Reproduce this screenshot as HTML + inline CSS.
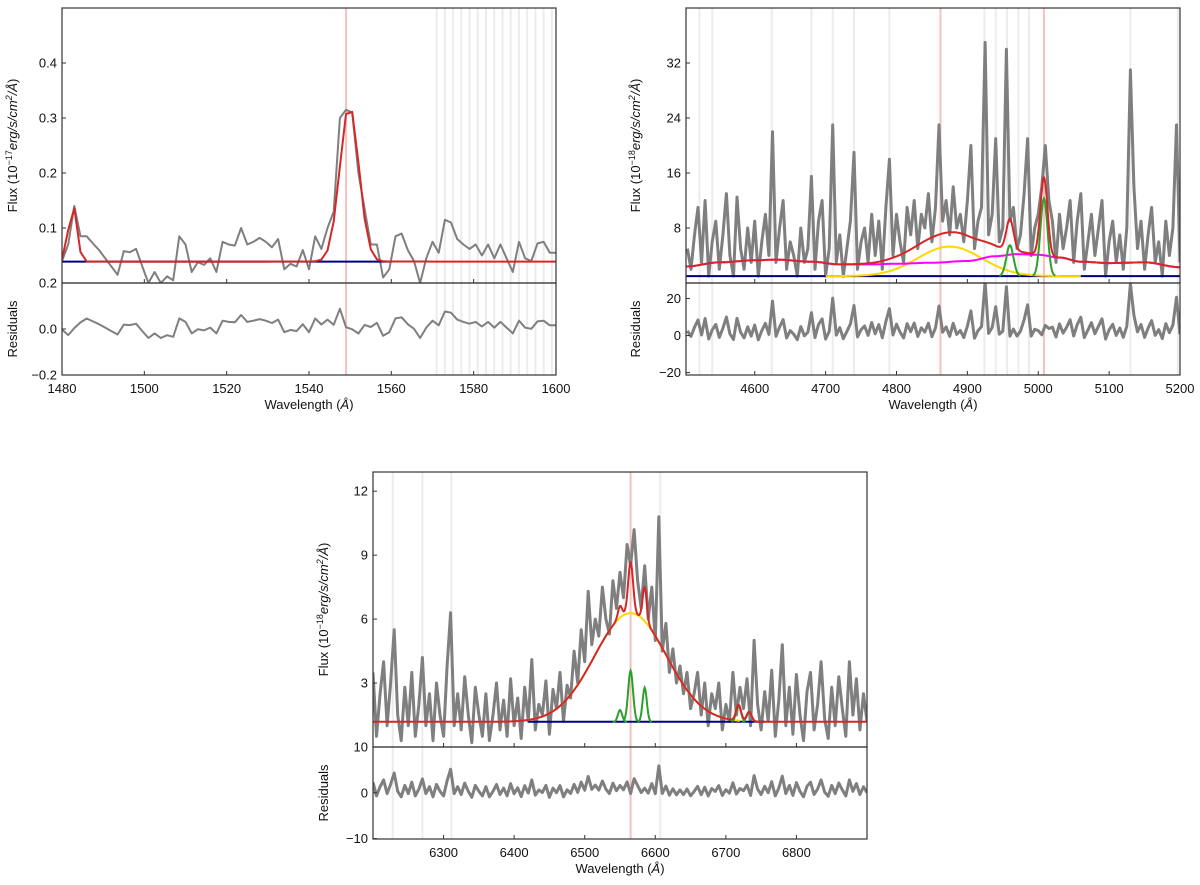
<!DOCTYPE html>
<html><head><meta charset="utf-8"><style>
html,body{margin:0;padding:0;background:#fff;}
svg{display:block;font-family:"Liberation Sans","DejaVu Sans",sans-serif;}
</style></head><body>
<svg id="fig" width="1200" height="885" viewBox="0 0 1200 885" xmlns="http://www.w3.org/2000/svg"></svg>
<script>
// ---------- Panel 1 (CIV) ----------
const p1Start = 1480, p1Step = 1.5;
const p1Flux = [0.04,0.07,0.14,0.085,0.085,0.072,0.06,0.045,0.03,0.015,0.058,0.056,0.062,0.03,0.0,0.02,0.0,0.012,0.005,0.085,0.07,0.02,0.038,0.033,0.045,0.02,0.075,0.07,0.068,0.1,0.07,0.075,0.082,0.075,0.065,0.08,0.025,0.035,0.03,0.06,0.025,0.085,0.062,0.1,0.13,0.3,0.315,0.31,0.2,0.135,0.07,0.07,0.01,0.025,0.085,0.09,0.06,0.04,0.0,0.045,0.075,0.055,0.115,0.11,0.08,0.07,0.062,0.07,0.05,0.07,0.045,0.07,0.045,0.02,0.075,0.045,0.04,0.072,0.075,0.055,0.055];
const p1Cont = 0.039;
const p1LineCenters = [1549.8, 1482.6];
const p1LineAmps = [0.285, 0.105];
const p1LineSigmas = [2.3, 1.0];
const p1GrayLines = [1571,1573,1575,1577,1579,1581,1583,1585,1587,1589,1591,1593,1595,1597,1599];
const p1PinkLines = [1549];
const p1XTicks = [1480,1500,1520,1540,1560,1580,1600];
const p1YTicks = [0.1,0.2,0.3,0.4];
const p1RTicks = [0.2,0.0,-0.2];
const p1RTickLabels = ["0.2","0.0","\u22120.2"];

// ---------- Panel 2 (Hbeta) ----------
const p2Start = 4505, p2Step = 5;
const p2Flux = [5,2,7,11,3,12,1,6,9,2,7,13,4,1,12.5,5,2,8,3,9,1,6,10,4,22,3,8,12,2,6,4,1,8,3,5,15.5,2,9,12,1,5,23,3,7,1,5,9,19,2,6,8,3,10,4,9,2,11,18,4,10,6,3,11,7,12,5,10,8,13,6,11,23,9,12,7,14,8,10,6,12,20,5,9,11,35,7,10,21,6,8,34,9,11,5,7,13,21,4,8,10,14,20,12,9,3,10,5,8,12,3,9,13,2,6,10,4,8,12,1,6,9,3,7,2,8,31,14,5,9,2,7,11,3,6,1,9,4,8,23,3];
const p2Cont = 1.0;
const p2FeWave = [4503,4550,4600,4630,4680,4720,4760,4800,4850,4900,4940,4970,5000,5030,5060,5100,5150,5200];
const p2FeFlux = [1.4,2.0,2.3,2.4,2.1,1.7,1.7,1.8,1.95,2.2,2.9,3.2,3.1,2.7,2.1,1.9,2.0,1.3];
const p2BroadCenter = [4875], p2BroadAmp = [4.3], p2BroadSigma = [45];
const p2NarrowCenters = [4960, 5008];
const p2NarrowAmps = [4.5, 11.3];
const p2NarrowSigmas = [5, 5];
const p2GrayLines = [4522,4540,4624,4680,4710,4740,4790,4924,4940,4956,4972,4987,5130,5197];
const p2PinkLines = [4862,5008];
const p2XTicks = [4600,4700,4800,4900,5000,5100,5200];
const p2YTicks = [8,16,24,32];
const p2RTicks = [20,0,-20];
const p2RTickLabels = ["20","0","\u221220"];

// ---------- Panel 3 (Halpha) ----------
const p3Start = 6200, p3Step = 5;
const p3Flux = [3.5,0.5,2.5,4,1,3,5.5,1.5,0.3,2.8,1,3.5,0.5,2,4.2,1,2.5,0.3,3,1.5,0.5,3.8,6.3,1,2.5,0.8,3.3,1.5,0.2,2.8,1.5,0.5,2.5,0.3,1.5,3,0.8,2.2,0.5,3.2,1,2.3,0.4,2.8,1.2,4.1,0.8,2,1.5,3.1,0.6,2.7,1.8,3.5,1.2,2.9,2.3,4.5,3,5.5,4,7.3,4.8,6,5.2,7.5,6,5.3,7.8,6.5,8.2,7,9.5,8.5,10.2,7.8,6.5,8.5,6,7.5,5,10.8,4.5,5.8,3.5,4.6,3,3.8,2.5,3.5,1.8,2.5,3.5,1.5,3,1,2.5,1.8,3,0.8,2,1.2,3.5,1.5,2.8,1.8,3.2,1,5,2,0.8,2.6,1.2,3.6,0.5,2.2,4.8,1,2.8,0.6,3.4,1.5,0.3,2.6,3.5,0.8,2,4,1.3,0.4,2.8,1,3.3,1.8,0.5,4,1.5,3.2,0.8,2.5,1.2];
const p3Cont = 1.18;
const p3BroadCenter = [6565], p3BroadAmp = [5.1], p3BroadSigma = [51];
const p3NarrowCenters = [6550, 6565, 6585, 6718, 6733];
const p3NarrowAmps = [0.55, 2.4, 1.6, 0.75, 0.45];
const p3NarrowSigmas = [3, 3.5, 3, 3.5, 3.5];
const p3GrayLines = [6228,6270,6311,6607];
const p3PinkLines = [6565];
const p3XTicks = [6300,6400,6500,6600,6700,6800];
const p3YTicks = [3,6,9,12];
const p3RTicks = [10,0,-10];
const p3RTickLabels = ["10","0","\u221210"];

const NS = "http://www.w3.org/2000/svg";
const fig = document.getElementById('fig');
function mk(tag, attrs, parent){ const e=document.createElementNS(NS,tag); for(const k in attrs) e.setAttribute(k,attrs[k]); (parent||fig).appendChild(e); return e; }
function gsum(x, cs, as, ss){ let s=0; for(let i=0;i<cs.length;i++){ s+=as[i]*Math.exp(-0.5*Math.pow((x-cs[i])/ss[i],2)); } return s; }
function interp(x, xs, ys){ if(x<=xs[0]) return ys[0]; for(let i=1;i<xs.length;i++){ if(x<=xs[i]){ const t=(x-xs[i-1])/(xs[i]-xs[i-1]); const tt=(1-Math.cos(t*Math.PI))/2; return ys[i-1]+(ys[i]-ys[i-1])*tt; } } return ys[ys.length-1]; }
function path(pts, sx, sy){ return pts.map((p,i)=>(i?'L':'M')+sx(p[0]).toFixed(1)+' '+sy(p[1]).toFixed(1)).join(''); }
let clipId=0;
function axesBox(x0,y0,x1,y1){ clipId++; const cp=mk('clipPath',{id:'c'+clipId}); mk('rect',{x:x0,y:y0,width:x1-x0,height:y1-y0},cp); const g=mk('g',{'clip-path':'url(#c'+clipId+')'}); return g; }

function panel(cfg){
  const {L,R,T,M,B,xmin,xmax,ymin,ymax,rmin,rmax} = cfg;
  const sx = v => L + (v-xmin)/(xmax-xmin)*(R-L);
  const sy = v => M - (v-ymin)/(ymax-ymin)*(M-T);
  const sr = v => B - (v-rmin)/(rmax-rmin)*(B-M);
  const wl = cfg.flux.map((f,i)=>cfg.start+i*cfg.step);
  // vertical marker lines (behind data)
  cfg.gray.forEach(v=>{
    const l=mk('line',{x1:sx(v),x2:sx(v),y1:T,y2:B,stroke:'#ececec','stroke-width':2},fig);
    
    
  });
  cfg.pink.forEach(v=>{
    const l=mk('line',{x1:sx(v),x2:sx(v),y1:T,y2:B,stroke:'#f7c0c0','stroke-width':2},fig);
    
    
  });
  const gMain = axesBox(L,T,R,M);
  
  
  const gRes = axesBox(L,M,R,B);
  
  
  const d = mk('path',{d:path(wl.map((w,i)=>[w,cfg.flux[i]]),sx,sy),fill:'none',stroke:'#7f7f7f','stroke-width':cfg.dataW,'stroke-linejoin':'round'},gMain);
  
  
  const grid=[]; const n=Math.round((xmax-xmin)/cfg.gridStep); for(let i=0;i<=n;i++) grid.push(xmin+i*cfg.gridStep);
  const model = x => cfg.modelFn(x);
  if(cfg.blueRange){
    const b=mk('path',{d:path([[cfg.blueRange[0],cfg.cont],[cfg.blueRange[1],cfg.cont]],sx,sy),stroke:'#000080','stroke-width':2,fill:'none'},gMain);
    
    
  }
  (cfg.comps||[]).forEach(c=>{
    const pts=[]; const m=Math.round((c.to-c.from)/cfg.gridStep); for(let i=0;i<=m;i++){const x=c.from+i*cfg.gridStep; pts.push([x,c.fn(x)]);}
    const p=mk('path',{d:path(pts,sx,sy),stroke:c.color,'stroke-width':2,fill:'none'},gMain);
    
    
  });
  const mpts = cfg.modelOnData ? wl.map(w=>[w,model(w)]) : grid.map(x=>[x,model(x)]);
  const r=mk('path',{d:path(mpts,sx,sy),stroke:'#d62728','stroke-width':2,fill:'none','stroke-linejoin':'round'},gMain);
  
  
  const res=mk('path',{d:path(wl.map((w,i)=>[w,cfg.flux[i]-model(w)]),sx,sr),fill:'none',stroke:'#7f7f7f','stroke-width':cfg.dataW,'stroke-linejoin':'round'},gRes);
  
  
  [[T,M],[M,B]].forEach(([a,b])=>{
    const f=mk('rect',{x:L,y:a,width:R-L,height:b-a,fill:'none',stroke:'#333','stroke-width':1.2});
    
    
  });
  cfg.xt.forEach(v=>{
    const X=sx(v);
    mk('line',{x1:X,x2:X,y1:M,y2:M-4,stroke:'#333','stroke-width':1});
    mk('line',{x1:X,x2:X,y1:B,y2:B-4,stroke:'#333','stroke-width':1});
    const t=mk('text',{x:X,y:B+18,'text-anchor':'middle','font-size':13,fill:'#111'}); t.textContent=v;
    
    
  });
  cfg.yt.forEach(v=>{
    const Y=sy(v);
    mk('line',{x1:L,x2:L+4,y1:Y,y2:Y,stroke:'#333','stroke-width':1});
    const t=mk('text',{x:L-5,y:Y+4.5,'text-anchor':'end','font-size':13,fill:'#111'}); t.textContent=cfg.ytFmt(v);
    
    
  });
  cfg.rt.forEach((v,i)=>{
    const Y=sr(v);
    mk('line',{x1:L,x2:L+4,y1:Y,y2:Y,stroke:'#333','stroke-width':1});
    const t=mk('text',{x:L-5,y:Y+4.5,'text-anchor':'end','font-size':13,fill:'#111'}); t.textContent=cfg.rtl[i];
    
    
  });
  const xt=mk('text',{x:(L+R)/2,y:B+34,'text-anchor':'middle','font-size':13,fill:'#111'});
  xt.innerHTML='Wavelength (<tspan font-style="italic">Å</tspan>)';
  
  
  const yc=(T+M)/2;
  const yt=mk('text',{x:cfg.ylabX,y:yc,'text-anchor':'middle','font-size':13,fill:'#111',transform:'rotate(-90 '+cfg.ylabX+' '+yc+')'});
  yt.innerHTML='Flux (10<tspan dy="-5" font-size="9">\u2212'+cfg.exp+'</tspan><tspan dy="5" font-style="italic">erg/s/cm</tspan><tspan dy="-5" font-size="9" font-style="italic">2</tspan><tspan dy="5" font-style="italic">/Å</tspan>)';
  
  
  const rc=(M+B)/2;
  const rt=mk('text',{x:cfg.ylabX,y:rc,'text-anchor':'middle','font-size':13,fill:'#111',transform:'rotate(-90 '+cfg.ylabX+' '+rc+')'});
  rt.textContent='Residuals';
  
  
}

panel({name:'civ-panel',L:62,R:556,T:8,M:283,B:375,xmin:1480,xmax:1600,ymin:0,ymax:0.5,rmin:-0.2,rmax:0.2,
  start:p1Start,step:p1Step,flux:p1Flux,dataW:2,gridStep:0.5,modelOnData:true,cont:p1Cont,blueRange:[1480,1560],
  modelFn:x=>p1Cont+gsum(x,p1LineCenters,p1LineAmps,p1LineSigmas),comps:[],
  gray:p1GrayLines,pink:p1PinkLines,xt:p1XTicks,yt:p1YTicks,ytFmt:v=>v.toFixed(1),rt:p1RTicks,rtl:p1RTickLabels,ylabX:17,exp:'17'});

const p2Fe = x=>interp(x,p2FeWave,p2FeFlux);
panel({name:'hbeta-panel',L:686,R:1180,T:8,M:283,B:375,xmin:4503,xmax:5200,ymin:0,ymax:40,rmin:-21.3,rmax:28.4,
  start:p2Start,step:p2Step,flux:p2Flux,dataW:3,gridStep:1,cont:p2Cont,blueRange:[4503,5200],
  modelFn:x=>p2Cont+p2Fe(x)+gsum(x,p2BroadCenter,p2BroadAmp,p2BroadSigma)+gsum(x,p2NarrowCenters,p2NarrowAmps,p2NarrowSigmas),
  comps:[
    {name:'broad-hbeta-component',color:'#ffd700',from:4700,to:5060,fn:x=>p2Cont+gsum(x,p2BroadCenter,p2BroadAmp,p2BroadSigma)},
    {name:'feii-component',color:'#ff00ff',from:4503,to:5200,fn:x=>p2Cont+p2Fe(x)},
    {name:'narrow-oiii-4959',color:'#2ca02c',from:4945,to:4975,fn:x=>p2Cont+gsum(x,[p2NarrowCenters[0]],[p2NarrowAmps[0]],[p2NarrowSigmas[0]])},
    {name:'narrow-oiii-5007',color:'#2ca02c',from:4992,to:5024,fn:x=>p2Cont+gsum(x,[p2NarrowCenters[1]],[p2NarrowAmps[1]],[p2NarrowSigmas[1]])}
  ],
  gray:p2GrayLines,pink:p2PinkLines,xt:p2XTicks,yt:p2YTicks,ytFmt:v=>String(v),rt:p2RTicks,rtl:p2RTickLabels,ylabX:640,exp:'18'});

const p3Comps = p3NarrowCenters.map((c,i)=>({name:'narrow-line-'+c,color:'#2ca02c',from:c-10,to:c+10,fn:x=>p3Cont+gsum(x,[c],[p3NarrowAmps[i]],[p3NarrowSigmas[i]])}));
panel({name:'halpha-panel',L:373,R:867,T:472,M:747,B:839,xmin:6200,xmax:6900,ymin:0,ymax:12.9,rmin:-10.1,rmax:10,
  start:p3Start,step:p3Step,flux:p3Flux,dataW:3,gridStep:1,cont:p3Cont,blueRange:[6420,6755],
  modelFn:x=>p3Cont+gsum(x,p3BroadCenter,p3BroadAmp,p3BroadSigma)+gsum(x,p3NarrowCenters,p3NarrowAmps,p3NarrowSigmas),
  comps:[{name:'broad-halpha-component',color:'#ffd700',from:6420,to:6720,fn:x=>p3Cont+gsum(x,p3BroadCenter,p3BroadAmp,p3BroadSigma)}].concat(p3Comps),
  gray:p3GrayLines,pink:p3PinkLines,xt:p3XTicks,yt:p3YTicks,ytFmt:v=>String(v),rt:p3RTicks,rtl:p3RTickLabels,ylabX:328,exp:'18'});
</script>
</body></html>
